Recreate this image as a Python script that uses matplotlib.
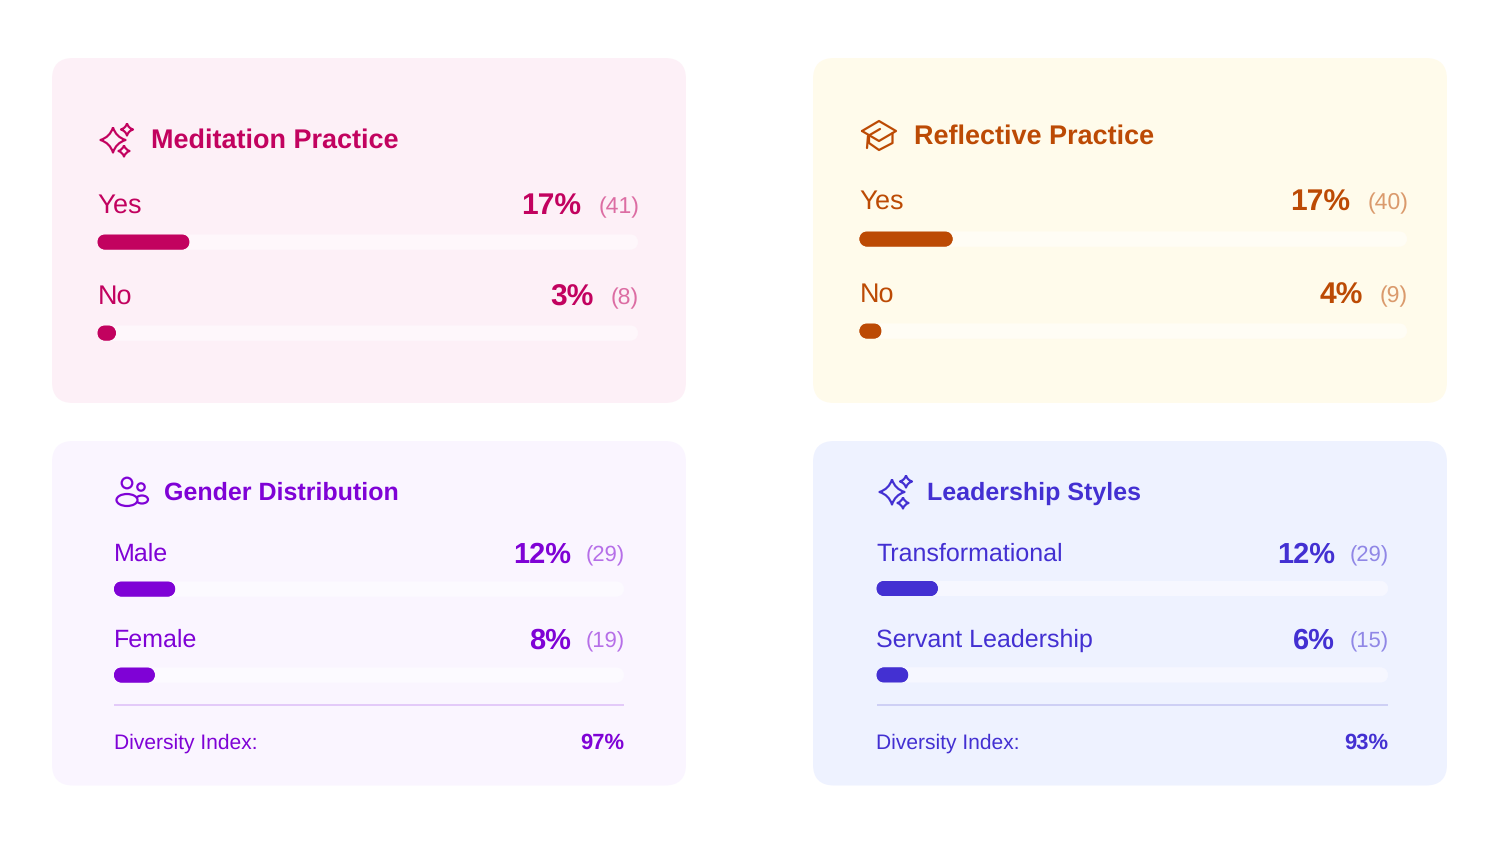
import matplotlib
matplotlib.use("Agg")
import numpy as np
import matplotlib.pyplot as plt
from matplotlib.patches import FancyBboxPatch, Circle, Ellipse, PathPatch
from matplotlib.path import Path
from matplotlib.transforms import IdentityTransform

plt.rcParams['font.family'] = ['Liberation Sans', 'DejaVu Sans']
plt.rcParams['text.hinting'] = 'no_hinting'
plt.rcParams['text.hinting_factor'] = 1

W, H = 1500, 844

# chart data
titles = ["Meditation Practice", "Reflective Practice", "Gender Distribution", "Leadership Styles"]
categories = [["Yes", "No"], ["Yes", "No"], ["Male", "Female"], ["Transformational", "Servant Leadership"]]
pct_labels = [["17%", "3%"], ["17%", "4%"], ["12%", "8%"], ["12%", "6%"]]
counts = [["(41)", "(8)"], ["(40)", "(9)"], ["(29)", "(19)"], ["(29)", "(15)"]]
bar_values = [[17, 3.4], [17, 4], [12, 8], [12, 6.2]]
diversity = [None, None, "97%", "93%"]

colors = ["#C2025F", "#BC4A04", "#7F02D6", "#4330D2"]
card_colors = ["#FDF0F7", "#FFFBEB", "#FAF5FF", "#EEF2FF"]
track_colors = ["#FEF7FB", "#FFFDF5", "#FCFAFF", "#F6F7FF"]
rule_colors = ["", "", "#DDBDF8", "#C5C6F3"]

# layout, pixels from top left
cards = [(52, 58, 634, 345), (813, 58, 634, 345), (52, 441, 634, 344.5), (813, 441, 634, 344.5)]
tracks = [(97.5, 638), (859.5, 1407), (114, 624), (876.5, 1388)]
title_pos = [(151, 148), (914, 144), (164.5, 500), (927, 500)]
label_y = [[213, 304], [209, 302], [561, 647], [561, 647]]
bar_y = [[242, 333], [239, 331], [589, 675], [588.5, 675]]
title_size = [19.2, 19.35, 18.15, 18.15]
label_size = [19.4, 19.4, 18.1, 18.1]
pct_size = [21.8, 21.7, 21, 21]
count_size = [16.6, 16.6, 15.8, 15.8]
pct_gap = [17, 17, 15, 15]
rule_y = 705
div_y = 749

fig = plt.figure(figsize=(W / 100, H / 100), dpi=100, facecolor="white")
bg = fig.add_axes([0, 0, 1, 1])
bg.set_xlim(0, W)
bg.set_ylim(H, 0)
bg.axis("off")


def star(cx, cy, r, color):
    k = 0.24 * r
    verts = [(cx, cy - r), (cx + k, cy - k), (cx + r, cy), (cx + k, cy + k), (cx, cy + r),
             (cx - k, cy + k), (cx - r, cy), (cx - k, cy - k), (cx, cy - r)]
    codes = [Path.MOVETO] + [Path.CURVE3] * 8
    bg.add_patch(PathPatch(Path(verts, codes), fc="none", ec=color, lw=1.6, joinstyle="round"))


def sparkles(ox, oy, color):
    star(ox, oy, 12.5, color)
    star(ox + 14, oy - 10.5, 6, color)
    star(ox + 11, oy + 11, 5.5, color)


def cap_icon(color):
    pts = [[(862, 131), (879, 121), (896, 131), (879, 141), (862, 131)],
           [(869, 136), (869, 143), (879, 150), (892.5, 143), (892.5, 133)],
           [(880, 129), (868, 136), (867, 148)]]
    for p in pts:
        xs, ys = zip(*p)
        bg.plot(xs, ys, color=color, lw=1.6, solid_joinstyle="round", solid_capstyle="round")


def users_icon(color):
    kw = dict(fc="none", ec=color, lw=1.6)
    bg.add_patch(Circle((127, 483), 5.3, **kw))
    bg.add_patch(Circle((141, 487), 3.7, **kw))
    bg.add_patch(Ellipse((142, 499.5), 12, 8, **kw))
    bg.add_patch(Ellipse((127, 500), 21, 12, fc=card_colors[2], ec=color, lw=1.6))


def pill_path(x0, x1, y0, y1):
    r = (y1 - y0) / 2
    yc = (y0 + y1) / 2
    right = Path.arc(-90, 90)
    left = Path.arc(90, 270)
    verts = np.vstack([right.vertices * r + [x1 - r, yc], left.vertices * r + [x0 + r, yc],
                       [[x1 - r, yc - r]]])
    codes = np.concatenate([right.codes, left.codes, [Path.CLOSEPOLY]])
    codes[len(right.codes)] = Path.LINETO
    return Path(verts, codes)


def rounded_bars(ax, ys, values, h, color):
    # bars come from the axes scale, then get a pill outline on display pixels
    bars = ax.barh(ys, values, height=h, color=color, linewidth=0)
    for b in bars:
        x0, y0 = ax.transData.transform((b.get_x(), b.get_y()))
        x1, y1 = ax.transData.transform((b.get_x() + b.get_width(), b.get_y() + b.get_height()))
        y0, y1 = min(y0, y1), max(y0, y1)
        pill = PathPatch(pill_path(x0, x1, y0, y1), fc=color, ec="none",
                         transform=IdentityTransform(), clip_on=False)
        ax.add_patch(pill)
        b.set_clip_path(pill)


renderer = fig.canvas.get_renderer()

for i in range(4):
    c = colors[i]
    x, y, w, h = cards[i]
    bg.add_patch(FancyBboxPatch((x, y), w, h, boxstyle="round,pad=0,rounding_size=21",
                                fc=card_colors[i], ec="none"))
    bg.text(title_pos[i][0], title_pos[i][1], titles[i], color=c, fontsize=title_size[i],
            fontweight="bold", va="baseline")

    x0, x1 = tracks[i]
    for j in range(2):
        bg.text(x0, label_y[i][j], categories[i][j], color=c, fontsize=label_size[i], va="baseline")
        ct = bg.text(x1 + 1, label_y[i][j], counts[i][j], color=c, alpha=0.55, fontsize=count_size[i],
                     ha="right", va="baseline")
        left = ct.get_window_extent(renderer).x0
        bg.text(left - pct_gap[i], label_y[i][j] + 2, pct_labels[i][j], color=c, fontsize=pct_size[i],
                fontweight="bold", ha="right", va="baseline")

    # one axes per card: x is percent of the track, y stays in figure pixels
    top, bottom = bar_y[i][0] - 10, bar_y[i][1] + 10
    ax = fig.add_axes([x0 / W, 1 - bottom / H, (x1 - x0) / W, (bottom - top) / H])
    ax.set_xlim(0, 100)
    ax.set_ylim(bottom, top)
    ax.axis("off")
    ax.patch.set_alpha(0)
    rounded_bars(ax, bar_y[i], [100, 100], 15, track_colors[i])
    rounded_bars(ax, bar_y[i], bar_values[i], 15, c)

    if diversity[i]:
        bg.plot([x0, x1], [rule_y, rule_y], color=rule_colors[i], lw=1.1, solid_capstyle="butt")
        bg.text(x0, div_y, "Diversity Index:", color=c, fontsize=15.4, va="baseline")
        bg.text(x1, div_y, diversity[i], color=c, fontsize=15.5, fontweight="bold",
                ha="right", va="baseline")

sparkles(113, 140, colors[0])
cap_icon(colors[1])
users_icon(colors[2])
sparkles(892, 492, colors[3])

fig.savefig("out.png", dpi=100, facecolor="white")
